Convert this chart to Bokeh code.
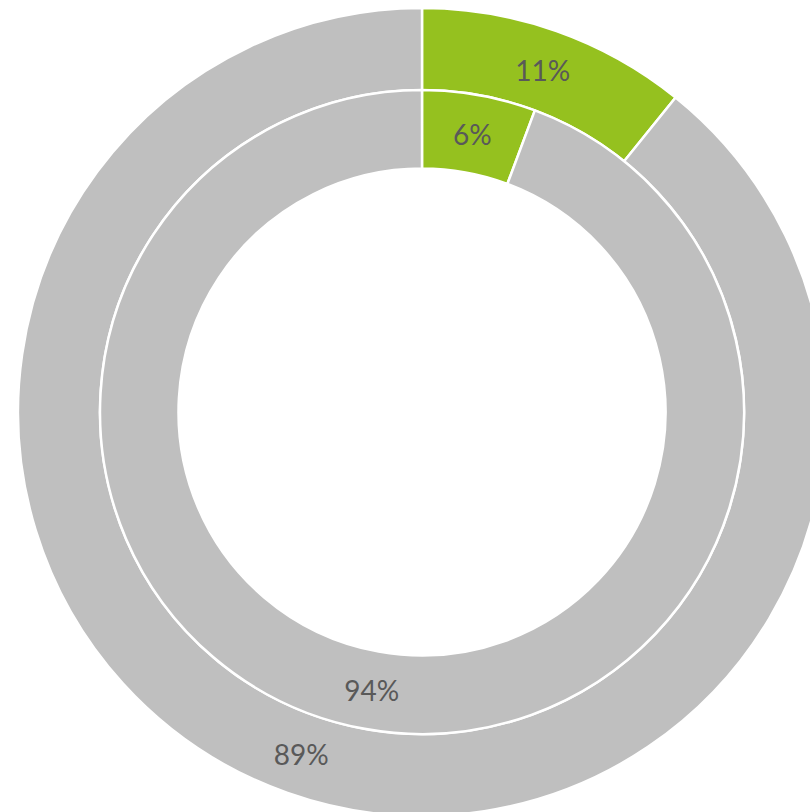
import numpy as np
from bokeh.plotting import figure
from bokeh.models import Range1d, ColumnDataSource
from bokeh.core.properties import value
from bokeh.embed import file_html
from bokeh.resources import INLINE

# Data
categories = ["Yes", "No"]
outer_values = [10.8, 89.2]
inner_values = [5.7, 94.3]
colors = ["#95C11F", "#BFBFBF"]

W, H = 810, 812
CX, CY = 421.5, 411.5  # centre in px within figure (from left, from top)

p = figure(width=W, height=H, output_backend="svg", toolbar_location=None,
           x_range=Range1d(-CX, W - CX), y_range=Range1d(CY - H, CY),
           min_border=0, outline_line_color=None)
p.axis.visible = False
p.grid.visible = False
p.background_fill_color = "white"
p.border_fill_color = "white"

hole_r, mid_r, outer_r = 243.5, 322.0, 404.0


def ring(vals, r_in, r_out):
    v = np.array(vals, dtype=float)
    frac = v / v.sum()
    cum = np.concatenate([[0], np.cumsum(frac)])
    start = np.pi / 2 - cum[:-1] * 2 * np.pi
    end = np.pi / 2 - cum[1:] * 2 * np.pi
    mid = (start + end) / 2
    rm = (r_in + r_out) / 2
    src = ColumnDataSource(dict(start=start, end=end, color=colors,
                                lx=rm * np.cos(mid), ly=rm * np.sin(mid),
                                label=[f"{round(x):.0f}%" for x in vals]))
    p.annular_wedge(x=0, y=0, inner_radius=r_in, outer_radius=r_out,
                    start_angle="start", end_angle="end", direction="clock",
                    fill_color="color", line_color="white", line_width=2.5,
                    source=src)
    p.text(x="lx", y="ly", text="label", source=src,
           text_align="center", text_baseline="middle",
           text_font=value("Lato"), text_font_size="28px",
           text_color="#595959")


ring(outer_values, mid_r, outer_r)
ring(inner_values, hole_r, mid_r)

open("out.html", "w").write(file_html(p, INLINE))
